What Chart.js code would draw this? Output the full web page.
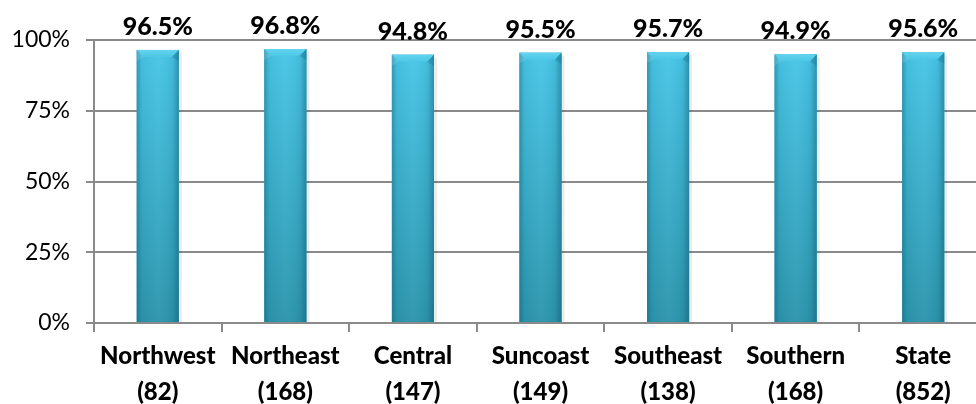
<!DOCTYPE html>
<html>
<head>
<meta charset="utf-8">
<script src="https://cdn.jsdelivr.net/npm/chart.js@4/dist/chart.umd.min.js"></script>
<style>
  html, body { margin: 0; padding: 0; background: #fff; overflow: hidden; }
  #wrap { width: 988px; height: 404px; }
</style>
</head>
<body>
<div id="wrap"><canvas id="c" width="988" height="404"></canvas></div>
<script>
// Regions and the number of respondents in each
const regions = ['Northwest', 'Northeast', 'Central', 'Suncoast', 'Southeast', 'Southern', 'State'];
const counts = [82, 168, 147, 149, 138, 168, 852];
// Percentage for each region
const rates = [96.5, 96.8, 94.8, 95.5, 95.7, 94.9, 95.6];
// Y axis ticks
const yTicks = [0, 25, 50, 75, 100];

const FONT = 'Lato, "Open Sans", sans-serif';
const GRID = '#8a8a8a';

// Shading for the cylinder-like bars: vertical tone, darker edges, bevelled top
const barShading = {
  id: 'barShading',
  afterDatasetsDraw(chart) {
    const ctx = chart.ctx;
    const meta = chart.getDatasetMeta(0);
    meta.data.forEach((bar) => {
      const l = bar.x - bar.width / 2, r = bar.x + bar.width / 2;
      const t = bar.y, b = bar.base, w = bar.width;
      ctx.save();
      // soft shadow on the right
      ctx.fillStyle = 'rgba(0,0,0,0.08)';
      ctx.fillRect(r, t + 3, 3, b - t - 3);
      // body
      const vg = ctx.createLinearGradient(0, t, 0, b);
      vg.addColorStop(0, '#47c5e6');
      vg.addColorStop(1, '#2b94ac');
      ctx.fillStyle = vg;
      ctx.fillRect(l, t, w, b - t);
      // darker edges
      const hg = ctx.createLinearGradient(l, 0, r, 0);
      hg.addColorStop(0, 'rgba(10,70,90,0.35)');
      hg.addColorStop(0.12, 'rgba(10,70,90,0.05)');
      hg.addColorStop(0.5, 'rgba(255,255,255,0.04)');
      hg.addColorStop(0.85, 'rgba(10,70,90,0.08)');
      hg.addColorStop(1, 'rgba(10,70,90,0.40)');
      ctx.fillStyle = hg;
      ctx.fillRect(l, t, w, b - t);
      // bevelled top
      const bev = 7;
      const cg = ctx.createLinearGradient(0, t, 0, t + bev);
      cg.addColorStop(0, '#62d4ef');
      cg.addColorStop(1, '#4cc7e6');
      ctx.fillStyle = cg;
      ctx.beginPath();
      ctx.moveTo(l, t); ctx.lineTo(r, t); ctx.lineTo(r - bev, t + bev); ctx.lineTo(l + bev, t + bev);
      ctx.closePath(); ctx.fill();
      ctx.fillStyle = 'rgba(20,110,140,0.30)';
      ctx.beginPath();
      ctx.moveTo(r, t); ctx.lineTo(r, t + bev + 4); ctx.lineTo(r - bev, t + bev); ctx.closePath(); ctx.fill();
      ctx.fillStyle = 'rgba(255,255,255,0.12)';
      ctx.beginPath();
      ctx.moveTo(l, t); ctx.lineTo(l + bev, t + bev); ctx.lineTo(l, t + bev + 4); ctx.closePath(); ctx.fill();
      ctx.restore();
    });
  }
};

// Value labels above each bar
const valueLabels = {
  id: 'valueLabels',
  afterDatasetsDraw(chart) {
    const ctx = chart.ctx;
    const meta = chart.getDatasetMeta(0);
    ctx.save();
    ctx.font = '900 25px ' + FONT;
    ctx.fillStyle = '#000';
    ctx.textAlign = 'center';
    ctx.textBaseline = 'alphabetic';
    meta.data.forEach((bar, i) => {
      ctx.fillText(rates[i].toFixed(1) + '%', bar.x, bar.y - 15);
    });
    ctx.restore();
  }
};

new Chart(document.getElementById('c'), {
  type: 'bar',
  data: {
    labels: regions.map((r, i) => [r, '(' + counts[i] + ')']),
    datasets: [{
      data: rates,
      backgroundColor: '#35aac6',
      borderWidth: 0,
      barPercentage: 0.66,
      categoryPercentage: 0.5
    }]
  },
  options: {
    responsive: false,
    animation: false,
    devicePixelRatio: 1,
    layout: { padding: { top: 40, right: 1, left: 0, bottom: 0 } },
    plugins: { legend: { display: false }, tooltip: { enabled: false } },
    scales: {
      x: {
        afterFit(scale) { scale.height = 81; },
        grid: { offset: true, drawOnChartArea: false, color: GRID, lineWidth: 2, tickLength: 9 },
        border: { color: GRID, width: 2 },
        ticks: {
          color: '#000',
          font: { family: FONT, size: 24, weight: '900', lineHeight: 1.5 },
          padding: 6,
          maxRotation: 0,
          autoSkip: false
        }
      },
      y: {
        min: 0, max: 100,
        afterFit(scale) { scale.width = 94; },
        afterBuildTicks(scale) { scale.ticks = yTicks.map(v => ({ value: v })); },
        grid: { color: GRID, lineWidth: 2, tickLength: 8 },
        border: { color: GRID, width: 2 },
        ticks: {
          color: '#000',
          font: { family: FONT, size: 23 },
          padding: 16,
          callback: (v) => v + '%'
        }
      }
    }
  },
  plugins: [barShading, valueLabels]
});
</script>
</body>
</html>
